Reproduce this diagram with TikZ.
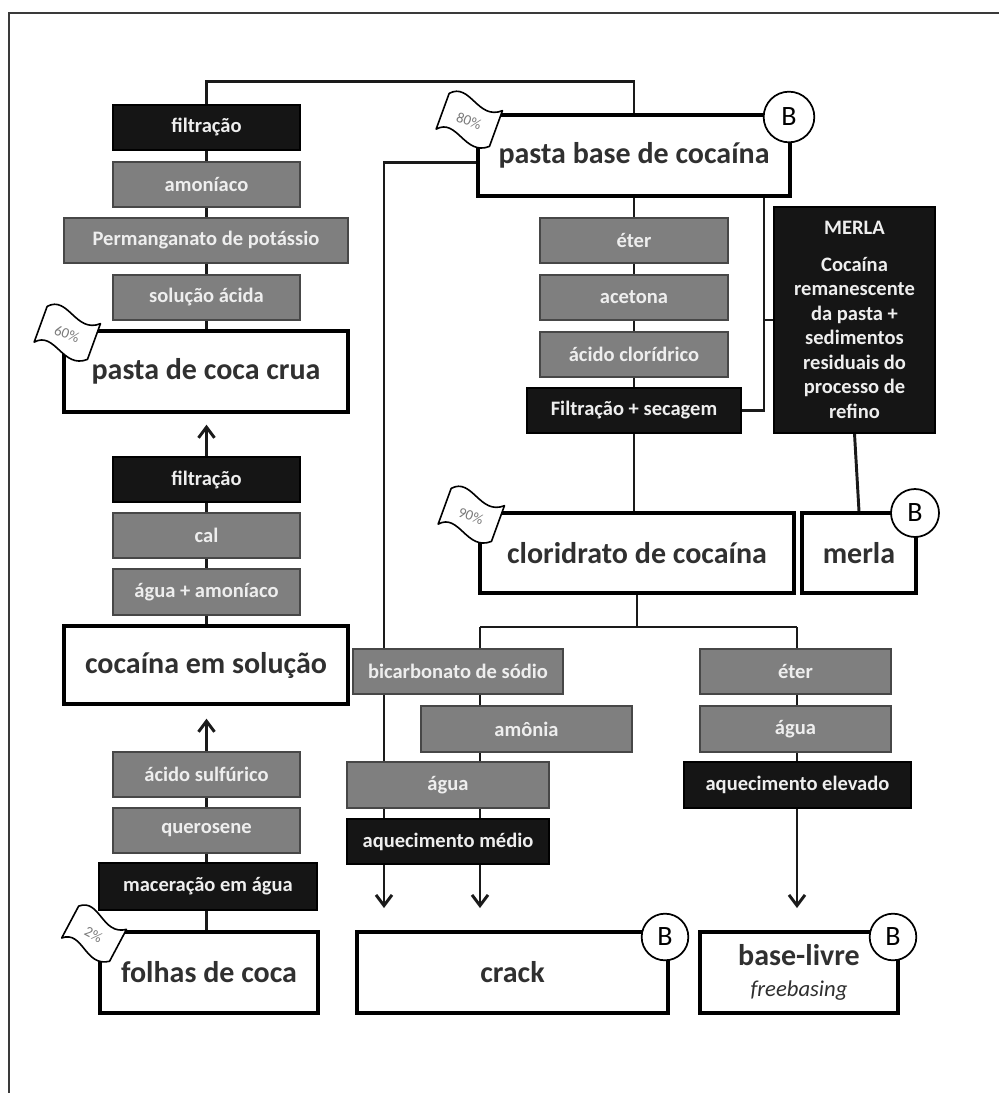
\documentclass[tikz,border=0pt]{standalone}
\usepackage{fontspec}
\setmainfont{Carlito}
\usetikzlibrary{arrows.meta,backgrounds,calc}
\definecolor{gfill}{HTML}{7F7F7F}
\definecolor{gedge}{HTML}{474747}
\definecolor{kfill}{HTML}{151515}
\definecolor{gtext}{HTML}{EEEEEE}
\definecolor{mtext}{HTML}{303030}
\definecolor{linec}{HTML}{1A1A1A}
\definecolor{flagtext}{HTML}{7A7A7A}
\definecolor{framec}{HTML}{3A3A3A}
\tikzset{
  wh/.style 2 args={minimum width=#1*0.75pt, minimum height=#2*0.75pt},
  stepg/.style={draw=gedge, line width=0.9pt, fill=gfill, text=gtext, font=\bfseries\fontsize{15.4}{18.4}\selectfont, inner sep=0pt},
  stepk/.style={stepg, fill=kfill, draw=black},
  mainbox/.style={draw=black, line width=2.6pt, fill=white, text=mtext, font=\bfseries\fontsize{22.5}{27}\selectfont, inner sep=0pt},
  bcirc/.style={circle, draw=black, line width=1.3pt, fill=white, minimum size=36pt, inner sep=0pt, text=black, font=\fontsize{21}{21}\selectfont},
  conn/.style={draw=linec, line width=2.2pt},
  arr/.style={conn, -{Straight Barb[length=8pt,width=12pt]}},
}
\newcommand\drawflag[5]{%
  \begin{scope}[shift={(#1,#2)}, rotate=#3, scale=#5]
    \draw[fill=white, line width=1.2pt, line join=round] (-28,-16) .. controls (-12,-34) and (8,0) .. (28,-18) -- (28,20) .. controls (8,38) and (-12,4) .. (-28,22) -- cycle;
    \node[rotate=#3, text=flagtext, font=\fontsize{11}{11}\selectfont, inner sep=0pt] at (0,3) {#4};
  \end{scope}}
\begin{document}
\begin{tikzpicture}[x=0.75pt, y=-0.75pt]
\useasboundingbox (0,0) rectangle (999,1093);
\draw[line width=1.4pt, draw=framec] (9,1100) -- (9,13) -- (1005,13);

% left column
\node[stepk, wh={187}{45}] (f1) at (206.5,127.5) {filtração};
\node[stepg, wh={187}{45}] (am) at (206.5,184.5) {amoníaco};
\node[stepg, wh={284}{45}] (perm) at (206,240.5) {Permanganato de potássio};
\node[stepg, wh={187}{45}] (sol) at (206.5,297.5) {solução ácida};
\node[mainbox, wh={284}{81}] (pcc) at (206,371.5) {pasta de coca crua};
\node[stepk, wh={187}{45}] (f2) at (206.5,479.5) {filtração};
\node[stepg, wh={187}{45}] (cal) at (206.5,535.5) {cal};
\node[stepg, wh={187}{46}] (aa) at (206.5,592) {água + amoníaco};
\node[mainbox, wh={284}{78}] (ces) at (206,665) {cocaína em solução};
\node[stepg, wh={187}{45}] (as) at (206.5,774.5) {ácido sulfúrico};
\node[stepg, wh={187}{45}] (q) at (206.5,830.5) {querosene};
\node[stepk, wh={218}{47}] (mac) at (208,886.5) {maceração em água};
\node[mainbox, wh={218}{81}] (fc) at (209,972.5) {folhas de coca};

% middle column
\node[mainbox, wh={312}{81}] (pbc) at (634,155.5) {pasta base de cocaína};
\node[stepg, wh={188}{45}] (et1) at (634,240.5) {éter};
\node[stepg, wh={188}{45}] (ac) at (634,297.5) {acetona};
\node[stepg, wh={188}{45}] (hcl) at (634,354.5) {ácido clorídrico};
\node[stepk, wh={214}{45}] (fs) at (634,410.5) {Filtração + secagem};
\node[stepk, wh={161}{226}, align=center] (MERLA) at (854.5,320) {MERLA\\[9pt]Cocaína\\remanescente\\da pasta +\\sedimentos\\residuais do\\processo de\\refino};
\node[mainbox, wh={314}{80}] (cc) at (637,553) {cloridrato de cocaína};
\node[mainbox, wh={114}{80}] (merla) at (859,553) {merla};

% lower part
\node[stepg, wh={210}{45}] (bic) at (458,671.5) {bicarbonato de sódio};
\node[stepg, wh={211}{46}] (amo) at (526.5,729) {amônia};
\node[stepg, wh={202}{46}] (ag) at (448,785) {água};
\node[stepk, wh={202}{45}] (aqm) at (448,841.5) {aquecimento médio};
\node[stepg, wh={191}{45}] (et2) at (795.5,671.5) {éter};
\node[stepg, wh={191}{46}] (ag2) at (795.5,729) {água};
\node[stepk, wh={227}{46}] (aqe) at (797.5,785) {aquecimento elevado};
\node[mainbox, wh={311}{81}] (crack) at (512.5,972.5) {crack};
\node[mainbox, wh={198}{81}, align=center] (bl) at (799,972.5) {base-livre\\[-4pt]{\mdseries\itshape\fontsize{17}{20}\selectfont freebasing}};

\coordinate (sideX) at (764,0);
\coordinate (brY) at (0,627);
\coordinate (tipL) at (384,908);
\coordinate (tipM) at (480,908);
\coordinate (tipR) at (797,908);

\begin{pgfonlayer}{background}
\draw[conn] (f1.north) -- ++(0,-23) -| (pbc.north);
\draw[conn] (f1.south) -- (f1.south |- pcc.north);
\draw[arr] (f2.north) -- ($(f2.north |- pcc.south)+(0,11)$);
\draw[conn] (f2.south) -- (f2.south |- ces.north);
\draw[arr] (as.north) -- ($(as.north |- ces.south)+(0,13)$);
\draw[conn] (as.south) -- (as.south |- fc.north);
\draw[conn] (pbc.south) -- (pbc.south |- cc.north);
\draw[conn] (pbc.south -| sideX) |- (fs.east);
\draw[conn] (MERLA.west) -- (MERLA.west -| sideX);
\draw[conn] (MERLA.south) -- (merla.north);
\draw[arr] ([yshift=-4.9pt]pbc.west) -| (tipL);
\draw[conn] (cc.south) -- (cc.south |- brY);
\draw[conn] (tipM |- brY) -- (tipR |- brY);
\draw[arr] (tipM |- brY) -- (tipM);
\draw[arr] (tipR |- brY) -- (tipR);
\end{pgfonlayer}

% B markers
\node[bcirc, minimum size=38pt] (b1) at (789,117) {B};
\node[bcirc] (b2) at (915,513) {B};
\node[bcirc, minimum size=35pt] (b3) at (665,937) {B};
\node[bcirc, minimum size=35pt] (b4) at (893,937) {B};

% flags
\drawflag{470}{118}{-20}{80\%}{1}
\drawflag{68}{331}{-20}{60\%}{1}
\drawflag{472}{513}{-20}{90\%}{1}
\drawflag{95}{932}{-28}{2\%}{0.95}
\end{tikzpicture}
\end{document}
